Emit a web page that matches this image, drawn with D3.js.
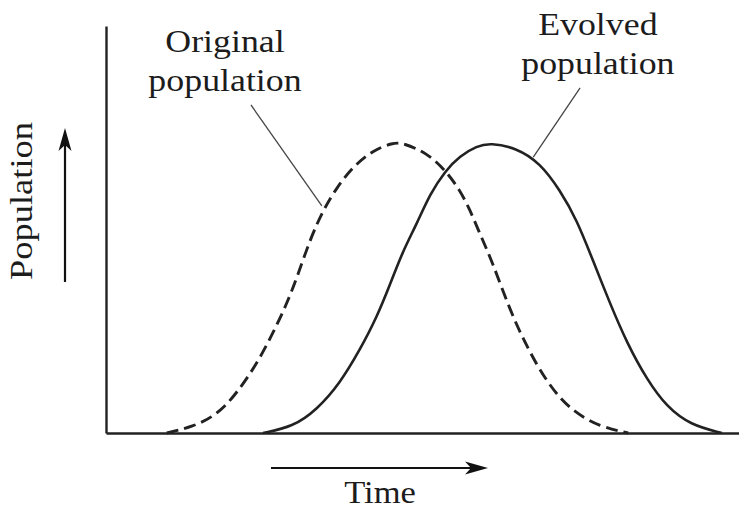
<!DOCTYPE html>
<html>
<head>
<meta charset="utf-8">
<script src="https://cdn.jsdelivr.net/npm/d3@7"></script>
<style>
  html, body { margin: 0; padding: 0; background: #fff; }
  svg { display: block; }
  text { font-family: "Liberation Serif", "Times New Roman", Times, serif; fill: #1c1c1c; }
</style>
</head>
<body>
<svg id="chart" width="739" height="513"></svg>
<script>
// Time (arbitrary units) and population size (% of axis height)
const originalTime = [0.96, 1.37, 1.75, 2.07, 2.39, 2.64, 2.86, 3.02, 3.22, 3.43, 3.65, 3.90,
  4.22, 4.53, 4.69, 5.07, 5.36, 5.59, 5.75, 5.88, 6.11, 6.38, 6.65, 6.97, 7.33, 7.80, 8.25];
const originalPop = [0, 1.5, 4.4, 9.8, 17.2, 24.6, 31.9, 38.3, 47.4, 54.8, 60.4, 65.4,
  69.5, 71.3, 71.3, 68.8, 64.6, 59.7, 54.8, 49.9, 41.8, 30.2, 21.1, 12.3, 5.7, 1.5, 0];

const evolvedTime = [2.48, 2.95, 3.33, 3.70, 4.01, 4.28, 4.49, 4.69, 4.91, 5.12, 5.36, 5.59,
  5.86, 6.07, 6.49, 6.86, 7.17, 7.44, 7.69, 7.96, 8.23, 8.55, 8.86, 9.23, 9.73];
const evolvedPop = [0, 1.5, 5.7, 12.3, 20.4, 28.5, 36.6, 44.7, 51.4, 58.8, 64.4, 68.1,
  70.5, 71.3, 70.0, 66.3, 59.7, 52.3, 42.5, 31.9, 22.1, 13.0, 6.4, 2.0, 0];

// Curve labels and the leader lines pointing from each label to its curve
const labelLines = [["Original", "population"], ["Evolved", "population"]];
const labelAt = [[1.88, 93.7], [7.77, 97.8]];          // [time, population] of first baseline
const leaderFrom = [[2.29, 80.6], [7.49, 84.8]];
const leaderTo = [[3.41, 55.8], [6.75, 67.8]];

const axisTitles = { x: "Time", y: "Population" };

const svg = d3.select("#chart");
const x = d3.scaleLinear().domain([0, 10]).range([106, 739]);
const y = d3.scaleLinear().domain([0, 100]).range([433, 26]);

const ink = "#222";

// Axes: bare lines with no ticks
const xAxis = svg.append("g").attr("transform", `translate(0,${y(0)})`)
  .call(d3.axisBottom(x).ticks(0).tickSizeOuter(0));
const yAxis = svg.append("g").attr("transform", `translate(${x(0)},0)`)
  .call(d3.axisLeft(y).ticks(0).tickSizeOuter(0));
[xAxis, yAxis].forEach(g => {
  g.select(".domain").attr("stroke", ink).attr("stroke-width", 2.4);
  g.selectAll(".tick").remove();
});

const line = d3.line()
  .x(d => x(d[0]))
  .y(d => y(d[1]))
  .curve(d3.curveBasis);

const original = originalTime.map((t, i) => [t, originalPop[i]]);
const evolved = evolvedTime.map((t, i) => [t, evolvedPop[i]]);

svg.append("path")
  .datum(original)
  .attr("d", line)
  .attr("fill", "none")
  .attr("stroke", ink)
  .attr("stroke-width", 2.9)
  .attr("stroke-dasharray", "12 6");

svg.append("path")
  .datum(evolved)
  .attr("d", line)
  .attr("fill", "none")
  .attr("stroke", ink)
  .attr("stroke-width", 2.6);

// Leader lines
labelLines.forEach((_, i) => {
  svg.append("line")
    .attr("x1", x(leaderFrom[i][0])).attr("y1", y(leaderFrom[i][1]))
    .attr("x2", x(leaderTo[i][0])).attr("y2", y(leaderTo[i][1]))
    .attr("stroke", "#444")
    .attr("stroke-width", 1.3);
});

// Curve labels (two lines each, slightly wide serif)
labelLines.forEach((lines, i) => {
  const cx = x(labelAt[i][0]);
  const cy = y(labelAt[i][1]);
  lines.forEach((s, k) => {
    svg.append("text")
      .attr("transform", `translate(${cx},${cy + k * 39}) scale(1.12,1)`)
      .attr("text-anchor", "middle")
      .attr("font-size", 32)
      .text(s);
  });
});

// Axis titles with direction arrows
svg.append("text")
  .attr("transform", `translate(380,503) scale(1.08,1)`)
  .attr("text-anchor", "middle")
  .attr("font-size", 32)
  .text(axisTitles.x);

svg.append("text")
  .attr("transform", `translate(32,201) rotate(-90) scale(1.14,1)`)
  .attr("text-anchor", "middle")
  .attr("font-size", 32)
  .text(axisTitles.y);

function arrow(x1, y1, x2, y2) {
  const ang = Math.atan2(y2 - y1, x2 - x1) * 180 / Math.PI;
  const len = Math.hypot(x2 - x1, y2 - y1);
  const g = svg.append("g")
    .attr("transform", `translate(${x1},${y1}) rotate(${ang})`);
  g.append("line")
    .attr("x1", 0).attr("y1", 0).attr("x2", len - 14).attr("y2", 0)
    .attr("stroke", "#111").attr("stroke-width", 2.2);
  g.append("path")
    .attr("d", `M${len},0 L${len - 23},-6.5 L${len - 17},0 L${len - 23},6.5 Z`)
    .attr("fill", "#111");
}
arrow(271, 468, 488, 468);
arrow(65, 282, 65, 128);
</script>
</body>
</html>
